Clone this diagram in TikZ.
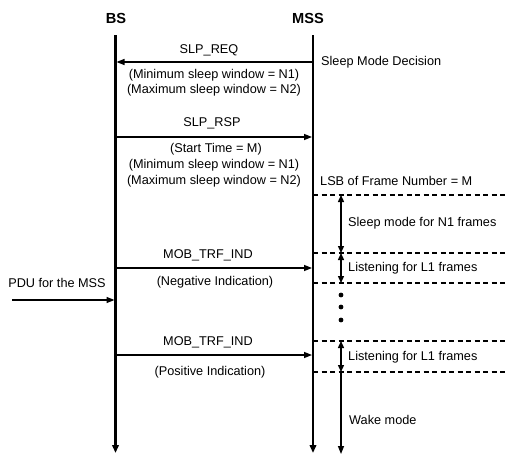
\documentclass[tikz,border=0pt]{standalone}
\usepackage{fontspec}
\setmainfont{Liberation Sans}
\usetikzlibrary{arrows.meta}
\begin{document}
\begin{tikzpicture}[x=1pt,y=-1pt,
  txt/.style={inner sep=0pt,font=\fontsize{12.7}{14}\selectfont},
  hdr/.style={inner sep=0pt,font=\fontsize{14.6}{16}\selectfont\bfseries},
  ltxt/.style={txt,anchor=west},
  life/.style={line width=2.3pt,-{Triangle[length=8pt,width=6.5pt]}},
  msg/.style={line width=1.4pt,-{Triangle[length=8pt,width=6pt]}},
  dbl/.style={line width=1.4pt,{Triangle[length=7pt,width=6pt]}-{Triangle[length=7pt,width=6pt]}},
  dsh/.style={line width=1.3pt,dash pattern=on 5pt off 3.5pt},
  dotc/.style={circle,fill,inner sep=0pt,minimum size=4.8pt}]
\useasboundingbox (0,0) rectangle (507,455);
% headers
\node[hdr] (bs) at (116,18) {BS};
\node[hdr] (mss) at (308,18) {MSS};
% lifelines
\coordinate (bsT) at (115.5,35);
\coordinate (bsB) at (115.5,453);
\coordinate (msT) at (313,35);
\coordinate (msB) at (313,453);
\draw[life] (bsT) -- (bsB);
\draw[life] (msT) -- (msB);
% SLP_REQ
\coordinate (reqA) at (313,62);
\coordinate (reqB) at (116.5,62);
\draw[msg] (reqA) -- (reqB);
\node[txt] (req) at (209,50) {SLP\_REQ};
\node[ltxt] (smd) at (321,62) {Sleep Mode Decision};
\node[txt] (req1) at (214,75) {(Minimum sleep window = N1)};
\node[txt] (req2) at (214,90) {(Maximum sleep window = N2)};
% SLP_RSP
\coordinate (rspA) at (115.5,137);
\coordinate (rspB) at (312,137);
\draw[msg] (rspA) -- (rspB);
\node[txt] (rsp) at (212,123) {SLP\_RSP};
\node[txt] (rsp1) at (216,149) {(Start Time = M)};
\node[txt] (rsp2) at (214,165) {(Minimum sleep window = N1)};
\node[txt] (rsp3) at (214,181) {(Maximum sleep window = N2)};
\node[ltxt] (lsb) at (320,181) {LSB of Frame Number = M};
% dashed lines
\coordinate (d1a) at (313,195); \coordinate (d1b) at (507,195);
\coordinate (d2a) at (313,253); \coordinate (d2b) at (507,253);
\coordinate (d3a) at (313,283); \coordinate (d3b) at (507,283);
\coordinate (d4a) at (313,341); \coordinate (d4b) at (507,341);
\coordinate (d5a) at (313,372); \coordinate (d5b) at (507,372);
\draw[dsh] (d1a) -- (d1b);
\draw[dsh] (d2a) -- (d2b);
\draw[dsh] (d3a) -- (d3b);
\draw[dsh] (d4a) -- (d4b);
\draw[dsh] (d5a) -- (d5b);
% sleep mode
\coordinate (s1) at (341,195); \coordinate (s2) at (341,253);
\draw[dbl] (s1) -- (s2);
\node[ltxt] (slp) at (348,223) {Sleep mode for N1 frames};
% MOB_TRF_IND 1
\coordinate (m1a) at (115.5,268); \coordinate (m1b) at (312,268);
\draw[msg] (m1a) -- (m1b);
\node[txt] (mob1) at (208,255) {MOB\_TRF\_IND};
\node[txt] (neg) at (215,282) {(Negative Indication)};
\coordinate (l1a) at (341,253); \coordinate (l1b) at (341,283);
\draw[dbl] (l1a) -- (l1b);
\node[ltxt] (lis1) at (348,268) {Listening for L1 frames};
% PDU
\node[txt] (pdu) at (57,283) {PDU for the MSS};
\coordinate (pduA) at (12,300); \coordinate (pduB) at (114.5,300);
\draw[msg] (pduA) -- (pduB);
% dots
\node[dotc] (dt1) at (341,295) {};
\node[dotc] (dt2) at (341,307) {};
\node[dotc] (dt3) at (341,320) {};
% MOB_TRF_IND 2
\coordinate (m2a) at (115.5,355); \coordinate (m2b) at (312,355);
\draw[msg] (m2a) -- (m2b);
\node[txt] (mob2) at (208,342) {MOB\_TRF\_IND};
\node[txt] (pos) at (210,372) {(Positive Indication)};
\coordinate (l2a) at (341,341); \coordinate (l2b) at (341,372);
\draw[dbl] (l2a) -- (l2b);
\node[ltxt] (lis2) at (348,357) {Listening for L1 frames};
% wake
\coordinate (w1) at (341,372); \coordinate (w2) at (341,454);
\draw[line width=1.4pt,-{Triangle[length=8pt,width=6pt]}] (w1) -- (w2);
\node[ltxt] (wake) at (349,420) {Wake mode};
\end{tikzpicture}
\end{document}
